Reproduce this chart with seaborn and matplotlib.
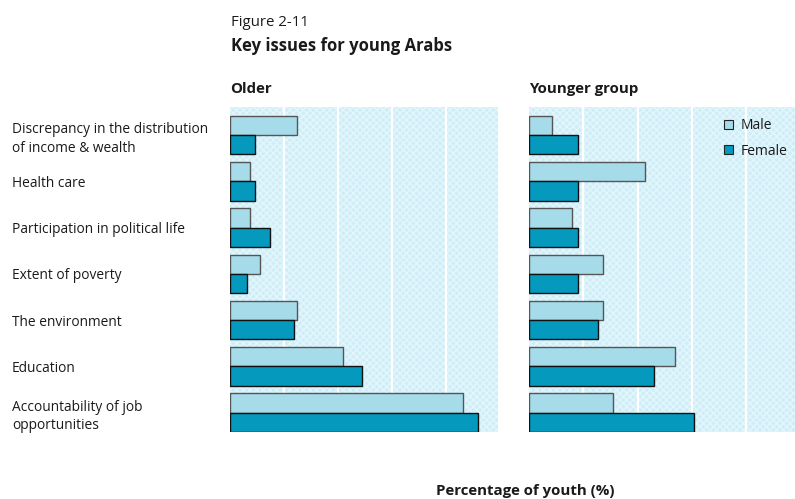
import pandas as pd
import seaborn as sns
import matplotlib.pyplot as plt

# categories (top to bottom)
issues = [
    "Discrepancy in the distribution\nof income & wealth",
    "Health care",
    "Participation in political life",
    "Extent of poverty",
    "The environment",
    "Education",
    "Accountability of job\nopportunities",
]

# values (% of youth)
older_male = [12.5, 3.7, 3.7, 5.5, 12.5, 21.0, 43.3]
older_female = [4.6, 4.6, 7.4, 3.2, 11.9, 24.5, 46.0]
younger_male = [4.2, 21.4, 7.9, 13.6, 13.6, 26.9, 15.4]
younger_female = [9.1, 9.1, 9.1, 9.1, 12.7, 23.1, 30.3]

genders = ["Male", "Female"]
gridlines = [10, 20, 30, 40]

male_color = "#a6dcea"
female_color = "#0499bd"
panel_bg = "#cdeef8"
text_color = "#1a1a1a"


def long_df(male, female):
    return pd.DataFrame({
        "Issue": issues * 2,
        "Gender": ["Male"] * len(issues) + ["Female"] * len(issues),
        "Value": male + female,
    })


sns.set_theme(style="white")
plt.rcParams["font.family"] = ["Open Sans", "DejaVu Sans"]
plt.rcParams["text.color"] = text_color

fig = plt.figure(figsize=(7.95, 4.99), dpi=100)
ax_old = fig.add_axes([230 / 795, 1 - 432 / 499, 268 / 795, 325 / 499])
ax_young = fig.add_axes([529 / 795, 1 - 432 / 499, 270 / 795, 325 / 499])

panels = [
    (ax_old, long_df(older_male, older_female), "Older"),
    (ax_young, long_df(younger_male, younger_female), "Younger group"),
]

for ax, df, name in panels:
    ax.set_facecolor(panel_bg)
    ax.patch.set_hatch("xxxxx")
    ax.patch.set_edgecolor("#e4f6fb")
    ax.patch.set_linewidth(0)

    sns.barplot(
        data=df,
        y="Issue",
        x="Value",
        hue="Gender",
        hue_order=genders,
        palette=[male_color, female_color],
        saturation=1,
        orient="h",
        width=0.83,
        ax=ax,
        zorder=3,
    )

    for bar, edge in zip(ax.patches, ["#555555"] * len(issues) + ["#111111"] * len(issues)):
        bar.set_edgecolor(edge)
        bar.set_linewidth(1.0)

    for g in gridlines:
        ax.axvline(g, color="white", linewidth=1.6, zorder=1)

    ax.set_xlim(0, 49.7)
    ax.set_ylim(6.42, -0.61)
    ax.set_xticks([])
    ax.set_xlabel("")
    ax.set_ylabel("")
    for s in ax.spines.values():
        s.set_visible(False)
    ax.text(0, 1.035, name, transform=ax.transAxes, fontsize=10.8,
            fontweight="bold", ha="left", va="bottom")

# category labels on the left panel only
ax_old.tick_params(axis="y", length=0, pad=157, labelsize=9.9, labelcolor=text_color)
for lab in ax_old.get_yticklabels():
    lab.set_horizontalalignment("left")
    lab.set_linespacing(1.3)
ax_young.set_yticks([])

ax_old.get_legend().remove()
leg = ax_young.legend(
    loc="upper right",
    bbox_to_anchor=(1.0, 1.0),
    borderaxespad=0.4,
    frameon=False,
    fontsize=10,
    handlelength=0.6,
    handleheight=0.6,
    handletextpad=0.6,
    labelspacing=0.75,
)
for h in leg.legend_handles:
    h.set_edgecolor("#222222")
    h.set_linewidth(0.8)

fig.text(231 / 795, 1 - 23 / 499, "Figure 2-11", fontsize=10.8, va="center", ha="left")
fig.text(231 / 795, 1 - 46 / 499, "Key issues for young Arabs", fontsize=12,
         fontweight="bold", va="center", ha="left")
fig.text(525 / 795, 1 - 491 / 499, "Percentage of youth (%)", fontsize=10.8,
         fontweight="bold", va="center", ha="center")

fig.savefig("out.png", dpi=100)
